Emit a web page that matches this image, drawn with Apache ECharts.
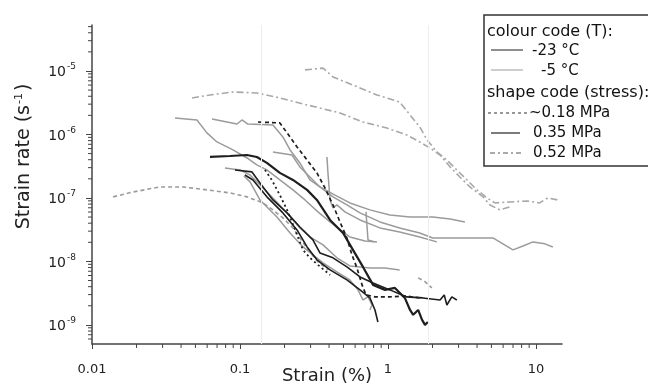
<!DOCTYPE html>
<html>
<head>
<meta charset="utf-8">
<script src="https://cdn.jsdelivr.net/npm/echarts@6/dist/echarts.min.js"></script>
<style>
  html, body { margin: 0; padding: 0; background: #fff; overflow: hidden; }
  #chart { width: 648px; height: 385px; }
</style>
</head>
<body>
<div id="chart"></div>
<script>
// axis ranges and tick labels
const X_MIN = 0.01, X_MAX = 15;
const Y_MIN = 5e-10, Y_MAX = 5.3e-5;
const xTickLabels = { '-2': '0.01', '-1': '0.1', '0': '1', '1': '10' };
const yDecades = [1e-9, 1e-8, 1e-7, 1e-6, 1e-5];
const ghostX = [0.141, 1.86];

// curves, [strain %, strain rate s^-1]
// -5 C, 0.52 MPa (dash-dot, grey)
const warmHighA = [[0.275,1.04e-5],[0.364,1.11e-5],[0.425,8.05e-6],[0.58,6.0e-6],[0.843,4.19e-6],[1.2,3.25e-6],[1.41,2.03e-6],[1.64,1.31e-6],[1.84,8.19e-7],[2.14,5.3e-7],[2.5,3.96e-7],[2.92,2.76e-7],[3.42,1.92e-7],[3.99,1.34e-7],[4.67,1.0e-7],[5.28,8.34e-8],[6.67,8.65e-8],[8.69,8.97e-8],[10.6,8.34e-8],[12.0,1.0e-7],[14.0,9.3e-8]];
const warmHighB = [[0.0474,3.76e-6],[0.0627,4.19e-6],[0.0897,4.67e-6],[0.13,4.5e-6],[0.186,3.76e-6],[0.284,2.92e-6],[0.474,2.18e-6],[0.678,1.57e-6],[0.984,1.26e-6],[1.34,9.82e-7],[1.64,7.62e-7],[1.92,6.12e-7],[2.25,4.75e-7],[2.63,3.08e-7],[3.06,2.14e-7],[3.58,1.49e-7],[4.39,1.04e-7],[4.89,7.76e-8],[5.71,6.48e-8],[6.67,7.22e-8]];
// -5 C, ~0.18 MPa (dashed, grey)
const warmLowA = [[0.0139,1.04e-7],[0.0189,1.24e-7],[0.0288,1.49e-7],[0.0412,1.49e-7],[0.0598,1.34e-7],[0.0856,1.2e-7],[0.1115,1.04e-7],[0.143,8.34e-8],[0.167,6.48e-8],[0.195,4.84e-8],[0.228,3.37e-8],[0.254,2.34e-8],[0.288,1.52e-8],[0.337,9.82e-9],[0.394,7.35e-9]];
const warmLowB = [[1.6,5.5e-9],[1.78,4.8e-9],[1.98,3.82e-9]];
// -5 C, 0.35 MPa (solid, grey)
const warmMidA = [[0.0364,1.82e-6],[0.0512,1.69e-6],[0.0598,1.06e-6],[0.0699,7.62e-7],[0.0897,5.7e-7],[0.1115,4.26e-7],[0.13,3.31e-7],[0.152,2.76e-7],[0.186,1.92e-7],[0.228,1.34e-7],[0.275,9.3e-8],[0.3365,6.02e-8],[0.406,4.19e-8],[0.474,3.13e-8],[0.553,2.43e-8],[0.7,2.1e-8],[0.843,2.03e-8]];
const warmMidB = [[0.0647,1.75e-6],[0.0955,1.46e-6],[0.1031,1.69e-6],[0.1132,1.46e-6],[0.167,1.41e-6],[0.195,9.14e-7],[0.218,5.7e-7],[0.254,3.56e-7],[0.297,1.92e-7],[0.347,1.49e-7],[0.4385,1.11e-7],[0.553,8.34e-8],[0.755,6.48e-8],[1.03,5.4e-8],[1.41,5.02e-8],[2.01,5.02e-8],[2.63,4.67e-8],[3.31,4.19e-8]];
const warmMidC = [[0.167,5.3e-7],[0.2245,4.75e-7],[0.254,3.08e-7],[0.297,2.14e-7],[0.347,1.49e-7],[0.425,1.04e-7],[0.528,7.76e-8],[0.647,5.81e-8],[0.883,4.19e-8],[1.2,3.37e-8],[1.64,2.81e-8],[2.01,2.34e-8],[3.06,2.34e-8],[5.12,2.34e-8],[5.98,1.89e-8],[7.0,1.52e-8],[8.17,1.75e-8],[9.55,2.03e-8],[11.5,1.89e-8],[13.0,1.69e-8]];
const warmMidD = [[0.387,4.42e-7],[0.394,2.3e-7],[0.406,9.3e-8],[0.425,6.96e-8],[0.452,7.76e-8],[0.512,6.02e-8],[0.647,4.5e-8],[0.883,3.37e-8],[1.2,2.91e-8],[1.64,2.43e-8],[2.14,2.03e-8]];
const warmMidE = [[0.71,6.02e-8],[0.733,2.18e-8],[0.817,2.03e-8]];
const warmMidF = [[0.1064,2.22e-7],[0.1169,1.79e-7],[0.1365,9.3e-8],[0.1778,5.02e-8],[0.218,2.81e-8],[0.2665,1.69e-8],[0.311,1.27e-8],[0.364,9.47e-9],[0.452,6.84e-9],[0.553,5.11e-9],[0.627,3.56e-9],[0.678,2.47e-9],[0.733,2.76e-9],[0.78,2.06e-9],[0.755,1.72e-9]];
const warmMidG = [[0.0792,2.96e-7],[0.1,2.76e-7],[0.1169,2.3e-7],[0.1409,1.49e-7],[0.1722,9.3e-8],[0.208,5.81e-8],[0.254,3.37e-8],[0.297,2.43e-8],[0.364,1.82e-8],[0.452,1.14e-8],[0.553,8.49e-9],[0.755,7.9e-9],[0.955,7.9e-9],[1.2,7.35e-9]];
// -23 C
const coldLow = [[0.1324,1.57e-6],[0.186,1.52e-6],[0.208,1.06e-6],[0.243,6.36e-7],[0.284,3.96e-7],[0.331,2.48e-7],[0.375,1.44e-7],[0.425,7.76e-8],[0.474,4.19e-8],[0.528,2.34e-8],[0.571,1.27e-8],[0.617,7.9e-9],[0.668,4.27e-9],[0.71,2.97e-9],[0.817,2.76e-9],[1.03,2.76e-9],[1.3,2.86e-9],[1.64,2.66e-9]];
const coldMidA = [[0.0627,4.42e-7],[0.0856,4.58e-7],[0.1115,4.75e-7],[0.13,4.42e-7],[0.152,3.56e-7],[0.186,2.48e-7],[0.228,1.92e-7],[0.284,1.34e-7],[0.331,9.3e-8],[0.406,4.5e-8],[0.497,2.81e-8],[0.58,1.52e-8],[0.678,8.19e-9],[0.793,4.27e-9],[0.955,3.56e-9],[1.115,3.82e-9],[1.3,2.66e-9],[1.41,1.72e-9],[1.48,1.44e-9],[1.6,1.72e-9],[1.7,1.2e-9],[1.78,1.0e-9],[1.86,1.11e-9]];
const coldMidB = [[0.0925,2.76e-7],[0.1205,2.57e-7],[0.1365,1.72e-7],[0.167,9.3e-8],[0.208,5.81e-8],[0.254,3.49e-8],[0.311,2.18e-8],[0.347,1.36e-8],[0.425,1.14e-8],[0.528,8.19e-9],[0.647,5.7e-9],[0.793,4.58e-9],[1.03,3.56e-9],[1.34,2.76e-9],[1.72,2.66e-9],[2.25,2.47e-9],[2.4,2.97e-9],[2.5,2.06e-9],[2.7,2.76e-9],[2.92,2.47e-9]];
const coldMidC = [[0.108,2.3e-7],[0.1224,1.92e-7],[0.152,1.04e-7],[0.195,5.81e-8],[0.243,3.13e-8],[0.284,1.69e-8],[0.331,1.06e-8],[0.406,7.35e-9],[0.528,5.11e-9],[0.647,3.56e-9],[0.755,2.66e-9],[0.817,1.72e-9],[0.855,1.11e-9]];
const coldHigh = [[0.1475,2.76e-7],[0.164,1.92e-7],[0.186,1.11e-7],[0.208,6.48e-8],[0.2245,4.19e-8],[0.243,2.61e-8],[0.2665,1.52e-8],[0.297,1.14e-8],[0.3365,8.81e-9],[0.406,6.12e-9]];

const BLACK = '#1e1e1e', GREY = '#9b9b9b', GREY_LIGHT = '#a8a8a8';
const DASH = [4, 3], DASHDOT = [7, 3, 2, 3];

function curve(data, color, type, width) {
  return {
    type: 'line', data: data, showSymbol: false, silent: true, z: 3,
    lineStyle: { color: color, type: type, width: width }
  };
}

// minor ticks at 2..9 of each decade
const xMinor = [];
[0.01, 0.1, 1, 10].forEach(d => { for (let k = 2; k <= 9; k++) if (d * k < X_MAX) xMinor.push(d * k); });
const yMinor = [];
[1e-10, 1e-9, 1e-8, 1e-7, 1e-6, 1e-5].forEach(d => { for (let k = 2; k <= 9; k++) { const v = d * k; if (v > Y_MIN && v < Y_MAX) yMinor.push(v); } });

const chart = echarts.init(document.getElementById('chart'));

const font = 'DejaVu Sans';
const headFont = '16px "DejaVu Sans"';
const itemFont = '15px "DejaVu Sans"';

function legendText(x, y, text, f) {
  return { type: 'text', silent: true, z: 11, x: x, y: y, style: { text: text, font: f, fill: '#111', verticalAlign: 'middle' } };
}
function legendLine(x1, x2, y, stroke, width, dash) {
  return { type: 'line', silent: true, z: 11, shape: { x1: x1, y1: y, x2: x2, y2: y }, style: { stroke: stroke, lineWidth: width, lineDash: dash || null } };
}

chart.setOption({
  animation: false,
  textStyle: { fontFamily: font },
  grid: { left: 92, right: 86, top: 25, bottom: 41, containLabel: false, outerBoundsMode: 'none' },
  xAxis: {
    type: 'log', min: X_MIN, max: X_MAX, logBase: 10,
    name: 'Strain (%)', nameLocation: 'middle', nameGap: 23, nameMoveOverlap: false,
    nameTextStyle: { fontSize: 18, color: '#222', fontFamily: font },
    axisLine: { lineStyle: { color: '#444', width: 1.5 } },
    axisTick: { length: 5, lineStyle: { color: '#444' } },
    splitLine: { show: false },
    axisLabel: {
      margin: 19, fontSize: 13, color: '#222', showMaxLabel: false,
      formatter: v => xTickLabels[String(Math.round(Math.log10(v)))] || ''
    }
  },
  yAxis: {
    type: 'log', min: Y_MIN, max: Y_MAX, logBase: 10,
    name: 'Strain rate (s{sup|-1})', nameLocation: 'middle', nameGap: 58, nameRotate: 90, nameMoveOverlap: false,
    nameTextStyle: {
      fontSize: 19, color: '#222', fontFamily: font, padding: [0, 0, 0, 56],
      rich: { sup: { fontSize: 11, color: '#222', fontFamily: font, verticalAlign: 'bottom', padding: [0, 2, 9, 1] } }
    },
    axisLine: { lineStyle: { color: '#444', width: 1.5 } },
    axisTick: { length: 6, lineStyle: { color: '#444' } },
    splitLine: { show: false },
    axisLabel: {
      margin: 16, color: '#222', showMinLabel: false, showMaxLabel: false,
      formatter: v => '{b|10}{e|' + Math.round(Math.log10(v)) + '}',
      rich: {
        b: { fontSize: 14, color: '#222', fontFamily: font, verticalAlign: 'bottom' },
        e: { fontSize: 9, color: '#222', fontFamily: font, verticalAlign: 'bottom', padding: [0, 0, 8, 1] }
      }
    }
  },
  graphic: [
    { type: 'rect', silent: true, z: 10, shape: { x: 484, y: 15, width: 164, height: 151 }, style: { fill: '#fff' } },
    { type: 'polyline', silent: true, z: 11, shape: { points: [[648, 15], [484, 15], [484, 166], [648, 166]] }, style: { stroke: '#333', lineWidth: 1.5, fill: null } },
    legendText(487, 32, 'colour code (T):', headFont),
    legendLine(491, 523, 50, BLACK, 1),
    legendText(532, 51, '-23 °C', itemFont),
    legendLine(491, 523, 70, GREY, 1),
    legendText(541, 71, '-5 °C', itemFont),
    legendText(487, 93, 'shape code (stress):', headFont),
    legendLine(488, 528, 113, '#333', 1, [3, 3]),
    legendText(529, 113, '~0.18 MPa', itemFont),
    legendLine(491, 520, 133, '#333', 1.3),
    legendText(533, 133, '0.35 MPa', itemFont),
    legendLine(490, 521, 153, '#555', 1, [5, 3, 2, 3]),
    legendText(533, 153, '0.52 MPa', itemFont)
  ],
  series: [
    {
      type: 'line', data: [], silent: true, z: 1,
      markLine: {
        silent: true, symbol: 'none', label: { show: false },
        lineStyle: { color: '#ededed', width: 1, type: 'solid' },
        data: yDecades.map(v => ({ yAxis: v })).concat(ghostX.map(v => ({ xAxis: v })))
      }
    },
    {
      type: 'custom', silent: true, z: 6, data: xMinor.map(v => [v, Y_MIN]),
      renderItem: (params, api) => {
        const p = api.coord([api.value(0), Y_MIN]);
        return { type: 'line', shape: { x1: p[0], y1: p[1], x2: p[0], y2: p[1] + 4 }, style: { stroke: '#444', lineWidth: 1 } };
      }
    },
    {
      type: 'custom', silent: true, z: 6, data: yMinor.map(v => [X_MIN, v]),
      renderItem: (params, api) => {
        const p = api.coord([X_MIN, api.value(1)]);
        return { type: 'line', shape: { x1: p[0], y1: p[1], x2: p[0] - 4, y2: p[1] }, style: { stroke: '#444', lineWidth: 1 } };
      }
    },
    curve(warmHighA, GREY_LIGHT, DASHDOT, 1.6),
    curve(warmHighB, GREY_LIGHT, DASHDOT, 1.6),
    curve(warmLowA, GREY, DASH, 1.6),
    curve(warmLowB, GREY, DASH, 1.6),
    curve(warmMidA, GREY, 'solid', 1.5),
    curve(warmMidB, GREY, 'solid', 1.5),
    curve(warmMidC, GREY, 'solid', 1.5),
    curve(warmMidD, GREY, 'solid', 1.5),
    curve(warmMidE, GREY, 'solid', 1.5),
    curve(warmMidF, GREY, 'solid', 1.5),
    curve(warmMidG, GREY, 'solid', 1.5),
    curve(coldLow, BLACK, DASH, 1.7),
    curve(coldMidA, BLACK, 'solid', 2.2),
    curve(coldMidB, BLACK, 'solid', 1.6),
    curve(coldMidC, BLACK, 'solid', 1.6),
    curve(coldHigh, BLACK, [2, 3], 1.8)
  ]
});

window.addEventListener('resize', () => chart.resize());
</script>
</body>
</html>
